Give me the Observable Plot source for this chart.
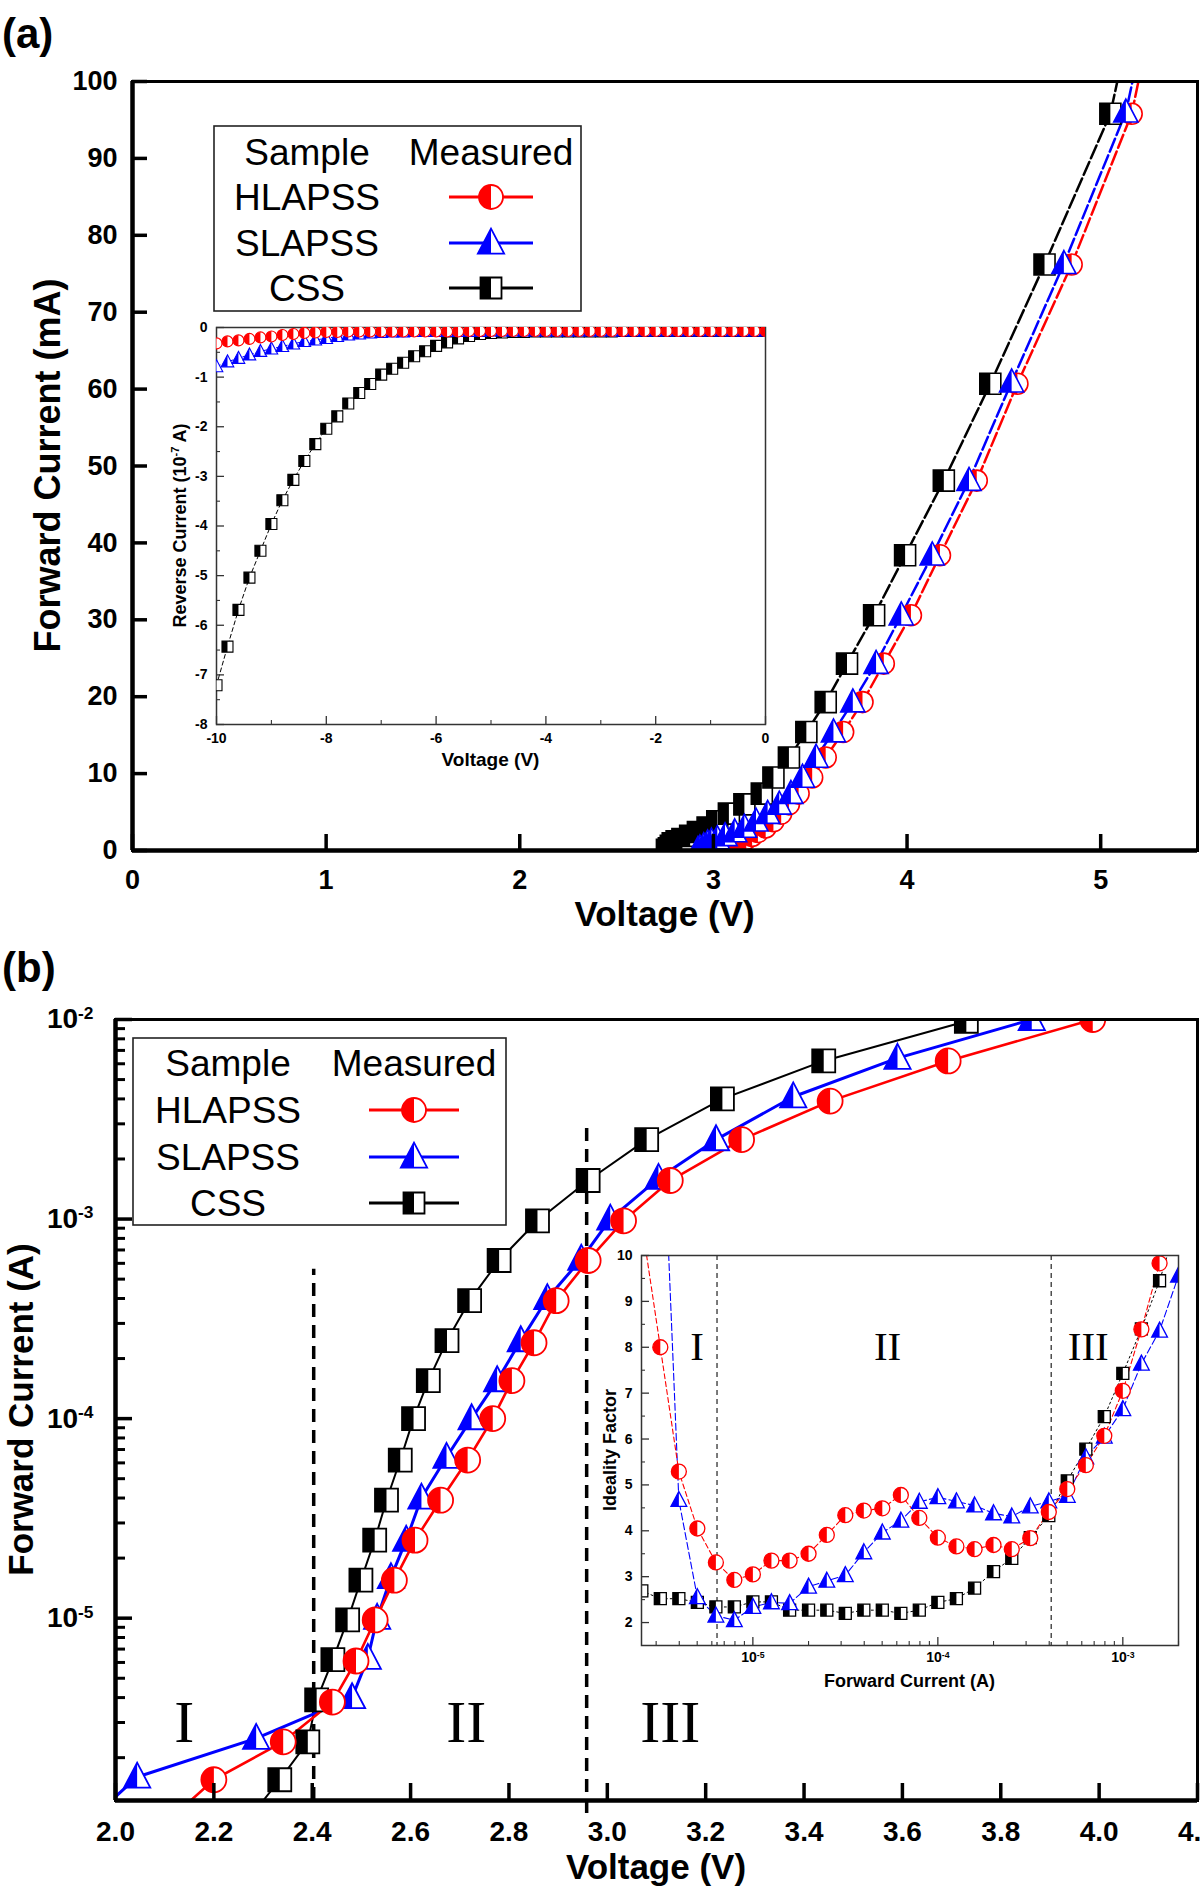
<!DOCTYPE html>
<html>
<head>
<meta charset="utf-8">
<script src="https://cdn.jsdelivr.net/npm/d3@7"></script>
<script src="https://cdn.jsdelivr.net/npm/@observablehq/plot@0.6"></script>
<style>
html,body{margin:0;padding:0;background:#fff;}
#root{position:relative;width:1200px;height:1892px;overflow:hidden;background:#fff;}
</style>
</head>
<body>
<div id="root"></div>
<script>
// ================= DATA =================
const seriesNames = ["HLAPSS", "SLAPSS", "CSS"];
const legendHeader = ["Sample", "Measured"];

// Panel (a) main: forward current (mA) vs voltage (V)
const aXDomain = [0, 5.5];
const aYDomain = [0, 100];
const aXTicks = [0, 1, 2, 3, 4, 5];
const aYTicks = [0, 10, 20, 30, 40, 50, 60, 70, 80, 90, 100];
const aCSS_V = [2.76,2.77,2.78,2.79,2.81,2.84,2.88,2.92,2.97,3.02,3.08,3.16,3.25,3.31,3.39,3.48,3.58,3.69,3.83,3.99,4.19,4.43,4.71,5.05,5.12];
const aCSS_I = [0.1,0.3,0.6,0.95,1.2,1.5,1.9,2.4,3.0,3.8,4.8,6.0,7.4,9.5,12.1,15.4,19.3,24.3,30.6,38.4,48.1,60.7,76.2,95.8,104];
const aSL_V  = [2.92,2.93,2.95,2.97,2.99,3.02,3.06,3.11,3.16,3.22,3.28,3.34,3.40,3.46,3.53,3.62,3.72,3.84,3.97,4.13,4.32,4.54,4.81,5.13,5.19];
const aSL_I  = [0.1,0.3,0.6,0.95,1.2,1.5,1.9,2.4,3.0,3.8,4.8,6.0,7.4,9.5,12.1,15.4,19.3,24.3,30.6,38.4,48.1,60.9,76.3,96.0,103];
const aHL_V  = [3.10,3.11,3.12,3.14,3.15,3.17,3.20,3.23,3.27,3.31,3.35,3.39,3.44,3.51,3.58,3.67,3.77,3.88,4.02,4.17,4.36,4.57,4.85,5.16,5.22];
const aHL_I  = [0.1,0.3,0.6,0.95,1.2,1.5,1.9,2.4,3.0,3.8,4.8,6.0,7.4,9.5,12.1,15.4,19.3,24.3,30.6,38.4,48.1,60.7,76.2,95.8,103];

// Panel (a) inset: reverse current (1e-7 A) vs voltage (V)
const iaXDomain = [-10, 0];
const iaYDomain = [-8, 0];
const iaXMajor = [-10, -8, -6, -4, -2, 0];
const iaXMinor = [-9, -7, -5, -3, -1];
const iaYMajor = [-8, -7, -6, -5, -4, -3, -2, -1, 0];
const iaYMinor = [-7.5, -6.5, -5.5, -4.5, -3.5, -2.5, -1.5, -0.5];
const rev_V = [-10,-9.8,-9.6,-9.4,-9.2,-9,-8.8,-8.6,-8.4,-8.2,
  -8,-7.8,-7.6,-7.4,-7.2,-7,-6.8,-6.6,-6.4,-6.2,
  -6,-5.8,-5.6,-5.4,-5.2,-5,-4.8,-4.6,-4.4,-4.2,
  -4,-3.8,-3.6,-3.4,-3.2,-3,-2.8,-2.6,-2.4,-2.2,
  -2,-1.8,-1.6,-1.4,-1.2,-1,-0.8,-0.6,-0.4,-0.2,
  0];
const rev_CSS = [-7.21,-6.43,-5.69,-5.04,-4.50,-3.96,-3.48,-3.07,-2.69,-2.35,
  -2.04,-1.79,-1.53,-1.32,-1.14,-0.95,-0.83,-0.71,-0.58,-0.48,
  -0.37,-0.30,-0.22,-0.17,-0.13,-0.11,-0.10,-0.09,-0.09,-0.08,
  -0.08,-0.08,-0.08,-0.08,-0.08,-0.08,-0.08,-0.07,-0.07,-0.07,
  -0.07,-0.07,-0.07,-0.07,-0.07,-0.07,-0.07,-0.07,-0.07,-0.07,
  -0.07];
const rev_HL = [-0.32,-0.28,-0.26,-0.23,-0.20,-0.18,-0.15,-0.13,-0.11,-0.10,
  -0.09,-0.09,-0.08,-0.08,-0.08,-0.08,-0.08,-0.08,-0.08,-0.08,
  -0.08,-0.08,-0.08,-0.07,-0.07,-0.07,-0.07,-0.07,-0.07,-0.07,
  -0.07,-0.07,-0.07,-0.07,-0.07,-0.07,-0.07,-0.07,-0.07,-0.07,
  -0.07,-0.07,-0.07,-0.07,-0.07,-0.07,-0.07,-0.07,-0.07,-0.07,
  -0.07];
const rev_SL = [-0.79,-0.69,-0.62,-0.55,-0.48,-0.43,-0.38,-0.33,-0.28,-0.25,
  -0.22,-0.18,-0.15,-0.13,-0.11,-0.10,-0.09,-0.09,-0.08,-0.08,
  -0.08,-0.08,-0.08,-0.08,-0.08,-0.07,-0.07,-0.07,-0.07,-0.07,
  -0.07,-0.07,-0.07,-0.07,-0.07,-0.07,-0.07,-0.07,-0.07,-0.07,
  -0.07,-0.07,-0.07,-0.07,-0.07,-0.07,-0.07,-0.07,-0.07,-0.07,
  -0.07];

// Panel (b) main: forward current (A, log) vs voltage (V)
const bXDomain = [2.0, 4.2];
const bYDomain = [1.22e-6, 1e-2];
const bXTicks = [2.0, 2.2, 2.4, 2.6, 2.8, 3.0, 3.2, 3.4, 3.6, 3.8, 4.0, 4.2];
const bYMajor = [1e-5, 1e-4, 1e-3, 1e-2];
const bYMinor = [2e-6,3e-6,4e-6,5e-6,6e-6,7e-6,8e-6,9e-6,2e-5,3e-5,4e-5,5e-5,6e-5,7e-5,8e-5,9e-5,
  2e-4,3e-4,4e-4,5e-4,6e-4,7e-4,8e-4,9e-4,2e-3,3e-3,4e-3,5e-3,6e-3,7e-3,8e-3,9e-3];
const bCSS_V = [2.27,2.334,2.391,2.409,2.442,2.472,2.499,2.527,2.551,2.579,2.606,2.636,2.674,2.72,2.78,2.858,2.961,3.08,3.234,3.44,3.73];
const bCSS_I = [9.8e-7,1.55e-6,2.4e-6,3.9e-6,6.2e-6,9.8e-6,1.55e-5,2.46e-5,3.9e-5,6.2e-5,1.0e-4,1.55e-4,2.46e-4,3.9e-4,6.2e-4,9.8e-4,1.56e-3,2.5e-3,4.0e-3,6.2e-3,9.8e-3];
const bHL_V  = [2.11,2.2,2.341,2.441,2.489,2.528,2.567,2.609,2.661,2.716,2.767,2.806,2.851,2.896,2.961,3.033,3.128,3.273,3.453,3.693,3.987];
const bHL_I  = [9.8e-7,1.55e-6,2.4e-6,3.8e-6,6.1e-6,9.8e-6,1.55e-5,2.46e-5,3.9e-5,6.2e-5,1.0e-4,1.55e-4,2.4e-4,3.9e-4,6.2e-4,9.8e-4,1.56e-3,2.5e-3,3.9e-3,6.2e-3,1.0e-2];
const bSL_V  = [1.98,2.044,2.286,2.481,2.513,2.532,2.56,2.591,2.622,2.673,2.724,2.776,2.824,2.878,2.947,3.006,3.104,3.221,3.378,3.59,3.863];
const bSL_I  = [1.15e-6,1.6e-6,2.5e-6,4.0e-6,6.3e-6,1.0e-5,1.6e-5,2.46e-5,4.0e-5,6.4e-5,1.0e-4,1.55e-4,2.46e-4,4.0e-4,6.3e-4,1.0e-3,1.6e-3,2.5e-3,4.1e-3,6.4e-3,1.0e-2];
const bSepV = [2.403, 2.958];
const bSepTop = [5.6e-4, 3.06e-3];
const bSepBottom = [1.22e-6, 1.05e-6];
const regionLabels = ["I", "II", "III"];
const bRegionV = [2.14, 2.713, 3.128];
const bRegionI = [3.0e-6, 3.0e-6, 3.0e-6];

// Panel (b) inset: ideality factor vs forward current (A, log)
const ibXDomain = [2.5e-6, 2e-3];
const ibYDomain = [1.5, 10];
const ibXMajor = [1e-5, 1e-4, 1e-3];
const ibXMinor = [3e-6,4e-6,5e-6,6e-6,7e-6,8e-6,9e-6,2e-5,3e-5,4e-5,5e-5,6e-5,7e-5,8e-5,9e-5,
  2e-4,3e-4,4e-4,5e-4,6e-4,7e-4,8e-4,9e-4,2e-3];
const ibYMajor = [2, 3, 4, 5, 6, 7, 8, 9, 10];
const ibYMinor = [2.5, 3.5, 4.5, 5.5, 6.5, 7.5, 8.5, 9.5];
const ideal_I = [2.51e-6,3.16e-6,3.98e-6,5.01e-6,6.31e-6,7.94e-6,1.0e-5,1.26e-5,1.58e-5,2.0e-5,
  2.51e-5,3.16e-5,3.98e-5,5.01e-5,6.31e-5,7.94e-5,1.0e-4,1.26e-4,1.58e-4,2.0e-4,
  2.51e-4,3.16e-4,3.98e-4,5.01e-4,6.31e-4,7.94e-4,1.0e-3,1.26e-3,1.58e-3,2.0e-3];
const ideal_HL = [10.7,8.0,5.29,4.05,3.31,2.93,3.05,3.35,3.35,3.5,
  3.91,4.34,4.44,4.49,4.78,4.28,3.85,3.66,3.6,3.69,
  3.6,3.84,4.41,4.91,5.43,6.07,7.05,8.39,9.83,11.3];
const ideal_SL = [null,14.4,4.67,2.55,2.15,2.05,2.34,2.44,2.42,2.78,
  2.91,3.03,3.53,3.96,4.22,4.63,4.73,4.64,4.55,4.38,
  4.31,4.53,4.64,4.76,5.6,6.05,6.65,7.64,8.36,9.56];
const ideal_CSS = [2.69,2.52,2.52,2.44,2.34,2.34,2.45,2.45,2.27,2.27,
  2.27,2.2,2.27,2.27,2.2,2.27,2.44,2.52,2.75,3.11,
  3.4,3.85,4.33,5.09,5.78,6.49,7.43,8.4,9.45,10.8];
const ibSep = [6.4e-6, 4.1e-4];
const ibRegionI = [5.0e-6, 5.35e-5, 6.5e-4];
const ibRegionY = [8.0, 8.0, 8.0];

// ================= HELPERS =================
const FONT = "'Liberation Sans', Arial, Helvetica, sans-serif";
const SERIF = "'Liberation Serif', 'Times New Roman', Times, serif";
const styles = {
  HLAPSS: {color: "#ff0000", kind: "circle"},
  SLAPSS: {color: "#0000ff", kind: "triangle"},
  CSS:    {color: "#000000", kind: "square"}
};
function mkSym(kind, r, half) {
  return {draw(c) {
    if (kind === "square") {
      if (half) c.rect(-r, -r, r, 2 * r); else c.rect(-r, -r, 2 * r, 2 * r);
    } else if (kind === "circle") {
      if (half) { c.moveTo(0, -r); c.arc(0, 0, r, -Math.PI / 2, Math.PI / 2, true); c.closePath(); }
      else { c.moveTo(r, 0); c.arc(0, 0, r, 0, 2 * Math.PI); c.closePath(); }
    } else {
      const t = -1.15 * r, b = 0.85 * r, w = 1.05 * r;
      c.moveTo(0, t);
      if (half) { c.lineTo(0, b); c.lineTo(-w, b); } else { c.lineTo(w, b); c.lineTo(-w, b); }
      c.closePath();
    }
  }};
}
const rows = (xs, ys) => xs.map((x, i) => ({x, y: ys[i]})).filter(d => d.y != null);
function lineMark(data, name, w, dash) {
  return Plot.line(data, {x: "x", y: "y", stroke: styles[name].color, strokeWidth: w, strokeDasharray: dash, clip: true});
}
function dotMarks(data, name, r, sw) {
  const st = styles[name];
  return [
    Plot.dot(data, {x: "x", y: "y", symbol: mkSym(st.kind, r, false), fill: "white", stroke: st.color, strokeWidth: sw, clip: true}),
    Plot.dot(data, {x: "x", y: "y", symbol: mkSym(st.kind, r, true), fill: st.color, stroke: "none", clip: true})
  ];
}
function supify(svg, sel) {
  d3.select(svg).selectAll(sel).each(function () {
    const m = /^10\^(.+)$/.exec(this.textContent);
    if (!m) return;
    const el = d3.select(this);
    el.text(null);
    el.append("tspan").text("10");
    el.append("tspan").attr("dy", "-0.55em").attr("font-size", "0.62em").text(m[1]);
  });
}
const root = document.getElementById("root");
function place(node, left, top) {
  node.style.position = "absolute";
  node.style.left = left + "px";
  node.style.top = top + "px";
  root.appendChild(node);
  return node;
}
function addTitle(svg, x, y, str, size, rotate) {
  const t = d3.select(svg).append("text")
    .attr("text-anchor", "middle").attr("font-family", FONT).attr("font-weight", "bold")
    .attr("font-size", size).attr("fill", "black");
  if (rotate) t.attr("transform", `translate(${x},${y}) rotate(-90)`).attr("dy", "0.35em");
  else t.attr("x", x).attr("y", y);
  t.text(str);
  return t;
}
const baseStyle = {fontFamily: FONT, background: "transparent", overflow: "visible", color: "black"};

// ================= PANEL (a) MAIN =================
const A = {left: 0, top: 0, width: 1200, height: 930, mL: 132, mR: 3, mT: 81, mB: 80};
const aFW = A.width - A.mL - A.mR, aFH = A.height - A.mT - A.mB;
const rowsA = {CSS: rows(aCSS_V, aCSS_I), HLAPSS: rows(aHL_V, aHL_I), SLAPSS: rows(aSL_V, aSL_I)};
const aR = {CSS: 10.5, HLAPSS: 10.5, SLAPSS: 11.5};
const plotA = Plot.plot({
  width: A.width, height: A.height,
  marginLeft: A.mL, marginRight: A.mR, marginTop: A.mT, marginBottom: A.mB,
  x: {domain: aXDomain}, y: {domain: aYDomain},
  style: baseStyle,
  marks: [
    ...["CSS", "HLAPSS", "SLAPSS"].map(n => lineMark(rowsA[n], n, 2.5, "14,4")),
    ...["CSS", "HLAPSS", "SLAPSS"].flatMap(n => dotMarks(rowsA[n], n, aR[n], 1.6)),
    Plot.frame({strokeWidth: 3}),
    Plot.ruleX([aXDomain[0]], {strokeWidth: 4.5}),
    Plot.ruleY([aYDomain[0]], {strokeWidth: 4.5}),
    Plot.tickX(aXTicks, {x: d => d, insetTop: aFH - 16, strokeWidth: 3.5}),
    Plot.tickY(aYTicks, {y: d => d, insetRight: aFW - 15, strokeWidth: 3.5}),
    Plot.axisX({ticks: aXTicks, tickSize: 0, tickPadding: 19, tickFormat: d => String(d), fontSize: 27, fontWeight: "bold", label: null}),
    Plot.axisY({ticks: aYTicks, tickSize: 0, tickPadding: 15, tickFormat: d => String(d), fontSize: 27, fontWeight: "bold", label: null})
  ]
});
place(plotA, A.left, A.top);
addTitle(plotA, A.mL + aFW / 2, 926, "Voltage (V)", 35, false);
addTitle(plotA, 47, A.mT + aFH / 2, "Forward Current (mA)", 36, true);

// ================= PANEL (a) INSET =================
const IA = {left: 156, top: 317, width: 619, height: 462, mL: 60, mR: 10, mT: 10, mB: 55};
const iaFW = IA.width - IA.mL - IA.mR, iaFH = IA.height - IA.mT - IA.mB;
const rowsIA = {CSS: rows(rev_V, rev_CSS), HLAPSS: rows(rev_V, rev_HL), SLAPSS: rows(rev_V, rev_SL)};
const iaR = {CSS: 5.5, HLAPSS: 5.5, SLAPSS: 6};
const plotIA = Plot.plot({
  width: IA.width, height: IA.height,
  marginLeft: IA.mL, marginRight: IA.mR, marginTop: IA.mT, marginBottom: IA.mB,
  x: {domain: iaXDomain}, y: {domain: iaYDomain},
  style: baseStyle,
  marks: [
    Plot.frame({stroke: "#333", strokeWidth: 1.5}),
    ...["CSS", "SLAPSS", "HLAPSS"].map(n => lineMark(rowsIA[n], n, 1, "4,3")),
    ...["CSS", "SLAPSS", "HLAPSS"].flatMap(n => dotMarks(rowsIA[n], n, iaR[n], 1.1)),
    Plot.tickX(iaXMajor, {x: d => d, insetTop: iaFH - 8, strokeWidth: 1.3, stroke: "#333"}),
    Plot.tickX(iaXMinor, {x: d => d, insetTop: iaFH - 4, strokeWidth: 1.1, stroke: "#333"}),
    Plot.tickY(iaYMajor, {y: d => d, insetRight: iaFW - 8, strokeWidth: 1.3, stroke: "#333"}),
    Plot.tickY(iaYMinor, {y: d => d, insetRight: iaFW - 4, strokeWidth: 1.1, stroke: "#333"}),
    Plot.axisX({ticks: iaXMajor, tickSize: 0, tickPadding: 9, tickFormat: d => String(d), fontSize: 14, fontWeight: "bold", label: null}),
    Plot.axisY({ticks: iaYMajor, tickSize: 0, tickPadding: 9, tickFormat: d => String(d), fontSize: 14, fontWeight: "bold", label: null})
  ]
});
place(plotIA, IA.left, IA.top);
addTitle(plotIA, IA.mL + iaFW / 2, 449, "Voltage (V)", 19, false);
{
  const t = d3.select(plotIA).append("text")
    .attr("transform", `translate(24,${IA.mT + iaFH / 2}) rotate(-90)`)
    .attr("text-anchor", "middle").attr("dy", "0.35em")
    .attr("font-family", FONT).attr("font-weight", "bold").attr("font-size", 18).attr("fill", "black");
  t.append("tspan").text("Reverse Current (10");
  t.append("tspan").attr("dy", "-7").attr("font-size", 11).text("-7");
  t.append("tspan").attr("dy", "7").text(" A)");
}

// ================= PANEL (b) MAIN =================
const B = {left: 0, top: 930, width: 1200, height: 962, mL: 115, mR: 3, mT: 89, mB: 92};
const bFW = B.width - B.mL - B.mR, bFH = B.height - B.mT - B.mB;
const rowsB = {CSS: rows(bCSS_V, bCSS_I), HLAPSS: rows(bHL_V, bHL_I), SLAPSS: rows(bSL_V, bSL_I)};
const bR = {CSS: 11.5, HLAPSS: 12.5, SLAPSS: 12.5};
const bW = {CSS: 2, HLAPSS: 2.6, SLAPSS: 3};
const bSep = bSepV.map((v, i) => ({x: v, y1: bSepBottom[i], y2: bSepTop[i]}));
const bReg = regionLabels.map((t, i) => ({t, x: bRegionV[i], y: bRegionI[i]}));
const plotB = Plot.plot({
  width: B.width, height: B.height,
  marginLeft: B.mL, marginRight: B.mR, marginTop: B.mT, marginBottom: B.mB,
  x: {domain: bXDomain}, y: {type: "log", domain: bYDomain},
  style: baseStyle,
  marks: [
    Plot.ruleX(bSep, {x: "x", y1: "y1", y2: "y2", strokeWidth: 3.5, strokeDasharray: "13,8"}),
    Plot.text(bReg, {x: "x", y: "y", text: "t", fontFamily: SERIF, fontSize: 60, fill: "black"}),
    ...["CSS", "SLAPSS", "HLAPSS"].map(n => lineMark(rowsB[n], n, bW[n], null)),
    ...["CSS", "SLAPSS", "HLAPSS"].flatMap(n => dotMarks(rowsB[n], n, bR[n], 1.8)),
    Plot.frame({strokeWidth: 3}),
    Plot.ruleX([bXDomain[0]], {strokeWidth: 4.5}),
    Plot.ruleY([bYDomain[0]], {strokeWidth: 4.5}),
    Plot.tickX(bXTicks, {x: d => d, insetTop: bFH - 17, strokeWidth: 3.5}),
    Plot.tickY(bYMajor, {y: d => d, insetRight: bFW - 17, strokeWidth: 3.5}),
    Plot.tickY(bYMinor, {y: d => d, insetRight: bFW - 10, strokeWidth: 3}),
    Plot.axisX({ticks: bXTicks, tickSize: 0, tickPadding: 21, tickFormat: d3.format(".1f"), fontSize: 28, fontWeight: "bold", label: null}),
    Plot.axisY({ticks: bYMajor, tickSize: 0, tickPadding: 22, tickFormat: d => "10^" + Math.round(Math.log10(d)), fontSize: 28, fontWeight: "bold", label: null})
  ]
});
place(plotB, B.left, B.top);
supify(plotB, 'g[aria-label="y-axis tick label"] text');
addTitle(plotB, B.mL + bFW / 2, 949, "Voltage (V)", 35, false);
addTitle(plotB, 21, B.mT + bFH / 2, "Forward Current (A)", 35, true);

// ================= PANEL (b) INSET =================
const IB = {left: 590, top: 1245, width: 594, height: 455, mL: 51, mR: 6, mT: 10, mB: 55};
const ibFW = IB.width - IB.mL - IB.mR, ibFH = IB.height - IB.mT - IB.mB;
const rowsIB = {CSS: rows(ideal_I, ideal_CSS), HLAPSS: rows(ideal_I, ideal_HL), SLAPSS: rows(ideal_I, ideal_SL)};
const ibR = {CSS: 6, HLAPSS: 7.5, SLAPSS: 7.5};
const ibReg = regionLabels.map((t, i) => ({t, x: ibRegionI[i], y: ibRegionY[i]}));
const plotIB = Plot.plot({
  width: IB.width, height: IB.height,
  marginLeft: IB.mL, marginRight: IB.mR, marginTop: IB.mT, marginBottom: IB.mB,
  x: {type: "log", domain: ibXDomain}, y: {domain: ibYDomain},
  style: baseStyle,
  marks: [
    Plot.ruleX(ibSep, {x: d => d, strokeWidth: 1.2, strokeDasharray: "5,4", stroke: "#222"}),
    Plot.text(ibReg, {x: "x", y: "y", text: "t", fontFamily: SERIF, fontSize: 41, fill: "black"}),
    lineMark(rowsIB.CSS, "CSS", 1, "2,3"),
    lineMark(rowsIB.SLAPSS, "SLAPSS", 1.1, "7,3"),
    lineMark(rowsIB.HLAPSS, "HLAPSS", 1.1, "5,3"),
    ...["CSS", "SLAPSS", "HLAPSS"].flatMap(n => dotMarks(rowsIB[n], n, ibR[n], 1.3)),
    Plot.frame({stroke: "#333", strokeWidth: 1.5}),
    Plot.tickX(ibXMajor, {x: d => d, insetTop: ibFH - 8, strokeWidth: 1.3, stroke: "#333"}),
    Plot.tickX(ibXMinor, {x: d => d, insetTop: ibFH - 4, strokeWidth: 1.1, stroke: "#333"}),
    Plot.tickY(ibYMajor, {y: d => d, insetRight: ibFW - 8, strokeWidth: 1.3, stroke: "#333"}),
    Plot.tickY(ibYMinor, {y: d => d, insetRight: ibFW - 4, strokeWidth: 1.1, stroke: "#333"}),
    Plot.axisX({ticks: ibXMajor, tickSize: 0, tickPadding: 7, tickFormat: d => "10^" + Math.round(Math.log10(d)), fontSize: 14, fontWeight: "bold", label: null}),
    Plot.axisY({ticks: ibYMajor, tickSize: 0, tickPadding: 9, tickFormat: d => String(d), fontSize: 14, fontWeight: "bold", label: null})
  ]
});
place(plotIB, IB.left, IB.top);
supify(plotIB, 'g[aria-label="x-axis tick label"] text');
addTitle(plotIB, IB.mL + ibFW / 2, 442, "Forward Current (A)", 18, false);
addTitle(plotIB, 20, IB.mT + ibFH / 2, "Ideality Factor", 18, true);

// ================= OVERLAY: panel letters + legends =================
const ov = d3.create("svg").attr("width", 1200).attr("height", 1892)
  .attr("font-family", FONT)
  .style("position", "absolute").style("left", "0px").style("top", "0px").style("pointer-events", "none");
ov.append("text").attr("x", 2).attr("y", 48).attr("font-size", 42).attr("font-weight", "bold").text("(a)");
ov.append("text").attr("x", 2).attr("y", 982).attr("font-size", 42).attr("font-weight", "bold").text("(b)");

function legend(cfg) {
  const g = ov.append("g");
  g.append("rect").attr("x", cfg.x0).attr("y", cfg.y0)
    .attr("width", cfg.x1 - cfg.x0).attr("height", cfg.y1 - cfg.y0)
    .attr("fill", "white").attr("stroke", "#222").attr("stroke-width", 1.6);
  g.append("text").attr("x", cfg.cName).attr("y", cfg.hy + 13).attr("text-anchor", "middle").attr("font-size", 37).text(legendHeader[0]);
  g.append("text").attr("x", cfg.cMeas).attr("y", cfg.hy + 13).attr("text-anchor", "middle").attr("font-size", 37).text(legendHeader[1]);
  seriesNames.forEach((name, i) => {
    const y = cfg.rows[i], st = styles[name], r = cfg.r[name];
    g.append("text").attr("x", cfg.cName).attr("y", y + 13).attr("text-anchor", "middle").attr("font-size", 37).text(name);
    g.append("line").attr("x1", cfg.lx[0]).attr("x2", cfg.lx[1]).attr("y1", y).attr("y2", y)
      .attr("stroke", st.color).attr("stroke-width", 3);
    const pf = d3.path(); mkSym(st.kind, r, false).draw(pf);
    g.append("path").attr("d", pf.toString()).attr("transform", `translate(${cfg.cMeas},${y})`)
      .attr("fill", "white").attr("stroke", st.color).attr("stroke-width", 1.8);
    const ph = d3.path(); mkSym(st.kind, r, true).draw(ph);
    g.append("path").attr("d", ph.toString()).attr("transform", `translate(${cfg.cMeas},${y})`)
      .attr("fill", st.color);
  });
}
legend({x0: 214, y0: 126, x1: 581, y1: 311, cName: 307, cMeas: 491, hy: 152,
  rows: [197, 243, 288], lx: [449, 533], r: {HLAPSS: 12, SLAPSS: 12.5, CSS: 10.5}});
legend({x0: 133, y0: 1038, x1: 506, y1: 1225, cName: 228, cMeas: 414, hy: 1063,
  rows: [1110, 1157, 1203], lx: [369, 459], r: {HLAPSS: 12, SLAPSS: 12.5, CSS: 10.5}});
root.appendChild(ov.node());
</script>
</body>
</html>
